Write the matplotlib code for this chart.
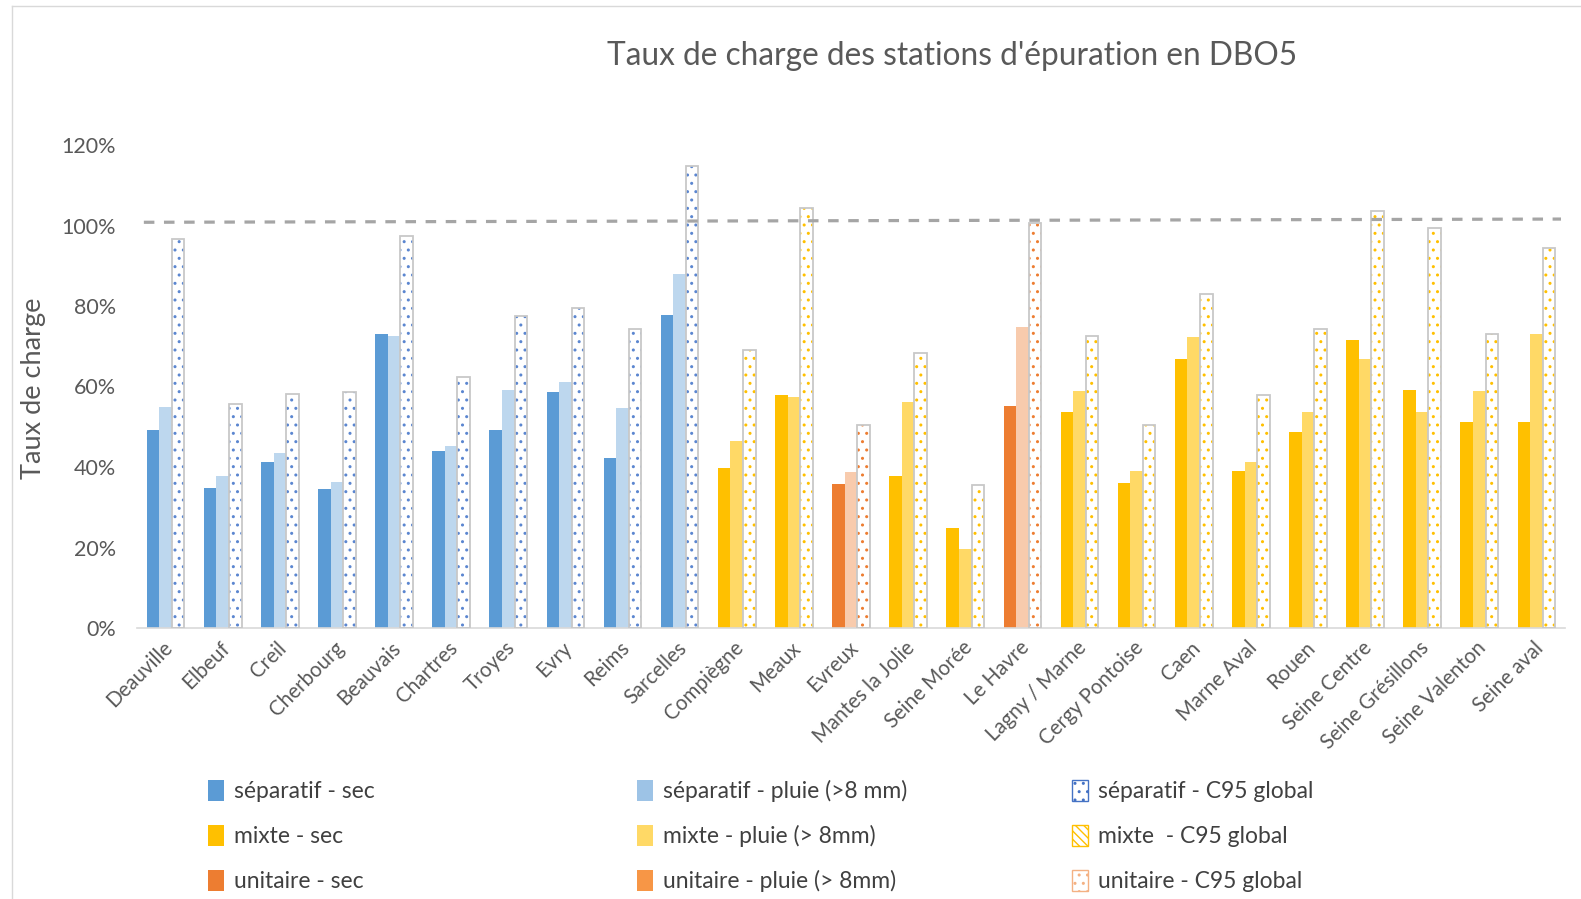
import matplotlib as mpl
import matplotlib.pyplot as plt
import numpy as np
from matplotlib.patches import Patch
from matplotlib.lines import Line2D

mpl.rcParams.update({
    'font.family': ['Lato', 'DejaVu Sans'],
    'hatch.linewidth': 1.0,
})

# --- data (taux de charge, %) ---
stations = ['Deauville', 'Elbeuf', 'Creil', 'Cherbourg', 'Beauvais', 'Chartres',
            'Troyes', 'Evry', 'Reims', 'Sarcelles', 'Compiègne', 'Meaux', 'Evreux',
            'Mantes la Jolie', 'Seine Morée', 'Le Havre', 'Lagny / Marne',
            'Cergy Pontoise', 'Caen', 'Marne Aval', 'Rouen', 'Seine Centre',
            'Seine Grésillons', 'Seine Valenton', 'Seine aval']
network = ['separatif'] * 10 + ['mixte', 'mixte', 'unitaire', 'mixte', 'mixte',
                                'unitaire'] + ['mixte'] * 9
sec = [49.2, 34.7, 41.2, 34.5, 73.1, 44.0, 49.2, 58.6, 42.2, 77.8,
       39.8, 57.8, 35.8, 37.8, 24.8, 55.2, 53.7, 36.0, 66.8, 39.0,
       48.7, 71.6, 59.1, 51.2, 51.2]
pluie = [54.8, 37.8, 43.5, 36.3, 72.5, 45.2, 59.1, 61.1, 54.7, 87.9,
         46.5, 57.4, 38.8, 56.1, 19.6, 74.8, 58.9, 39.0, 72.3, 41.2,
         53.7, 66.8, 53.7, 58.9, 73.0]
c95 = [96.6, 55.7, 58.1, 58.6, 97.5, 62.4, 77.5, 79.5, 74.2, 114.8,
       69.0, 104.3, 50.4, 68.4, 35.6, 100.5, 72.5, 50.4, 83.1, 57.8,
       74.2, 103.7, 99.3, 73.0, 94.3]
limit_line = [100.8, 101.6]   # dashed reference (start, end)

colors = {
    'separatif': ('#5B9BD5', '#BDD7EE', '#5B86D0'),
    'mixte': ('#FFC000', '#FFD966', '#FFC000'),
    'unitaire': ('#ED7D31', '#F8CBAD', '#ED7D31'),
}

fig = plt.figure(figsize=(15.81, 8.99), dpi=100)
ax = fig.add_axes([137 / 1581, 1 - 628 / 899, (1565 - 137) / 1581, (628 - 145) / 899])

x = np.arange(len(stations))
w = 0.22
sec_c = [colors[n][0] for n in network]
pluie_c = [colors[n][1] for n in network]
hatch_c = [colors[n][2] for n in network]

ax.bar(x - w, np.array(sec) / 100, w, color=sec_c, zorder=2)
ax.bar(x, np.array(pluie) / 100, w, color=pluie_c, zorder=2)
# hatched bars: coloured dots, grey outline
ax.bar(x + w, np.array(c95) / 100, w, facecolor='white', edgecolor=hatch_c,
       linewidth=0, hatch='..', zorder=2)
ax.bar(x + w, np.array(c95) / 100, w, fill=False, edgecolor='#C8C8C8',
       linewidth=1.3, zorder=3)

ax.plot([-0.38, 24.43], np.array(limit_line) / 100, color='#A5A5A5',
        lw=2.3, dashes=(3.3, 3.0), zorder=4)

ax.set_xlim(-0.5, len(stations) - 0.5)
ax.set_ylim(0, 1.2)
ax.set_yticks(np.arange(0, 1.21, 0.2))
ax.set_yticklabels([f'{int(round(v * 100))}%' for v in np.arange(0, 1.21, 0.2)])
ax.set_xticks(x - 0.06)
ax.set_xticklabels(stations, rotation=45, ha='right', va='top',
                   rotation_mode='anchor')
ax.tick_params(axis='both', length=0, colors='#595959')
ax.tick_params(axis='y', pad=15, labelsize=15.5)
ax.tick_params(axis='x', pad=7, labelsize=14.8)
for s in ['top', 'right', 'left']:
    ax.spines[s].set_visible(False)
ax.spines['bottom'].set_color('#D9D9D9')
ax.spines['bottom'].set_linewidth(1.2)

fig.text(0.602, 0.938, "Taux de charge des stations d'épuration en DBO5",
         ha='center', va='center', fontsize=22.8, color='#595959')
fig.text(0.021, 0.568, 'Taux de charge', rotation=90, ha='center',
         va='center', fontsize=19.5, color='#595959')

# chart area border (left and top)
fig.add_artist(Line2D([12 / 1581, 12 / 1581], [0, 1 - 6 / 899],
                      transform=fig.transFigure, color='#D9D9D9', lw=1))
fig.add_artist(Line2D([12 / 1581, 1], [1 - 6 / 899, 1 - 6 / 899],
                      transform=fig.transFigure, color='#D9D9D9', lw=1))

# legend, three columns placed like the original
col1 = [Patch(facecolor='#5B9BD5'), Patch(facecolor='#FFC000'),
        Patch(facecolor='#ED7D31')]
lab1 = ['séparatif - sec', 'mixte - sec', 'unitaire - sec']
col2 = [Patch(facecolor='#9DC3E6'), Patch(facecolor='#FFD966'),
        Patch(facecolor='#F79646')]
lab2 = ['séparatif - pluie (>8 mm)', 'mixte - pluie (> 8mm)',
        'unitaire - pluie (> 8mm)']
col3 = [Patch(facecolor='white', edgecolor='#4472C4', hatch='..'),
        Patch(facecolor='white', edgecolor='#FFC000', hatch='\\\\\\\\'),
        Patch(facecolor='white', edgecolor='#F4B183', hatch='..')]
lab3 = ['séparatif - C95 global', 'mixte  - C95 global', 'unitaire - C95 global']

for handles, labels, xpos in [(col1, lab1, 208), (col2, lab2, 637), (col3, lab3, 1072)]:
    leg = fig.legend(handles, labels, loc='upper left',
                     bbox_to_anchor=(xpos / 1581, 1 - 780 / 899),
                     frameon=False, fontsize=16.5, handlelength=0.7,
                     handleheight=1.0, handletextpad=0.45, labelspacing=1.0,
                     borderpad=0, borderaxespad=0)
    for t in leg.get_texts():
        t.set_color('#404040')

fig.savefig('out.png', dpi=100)
